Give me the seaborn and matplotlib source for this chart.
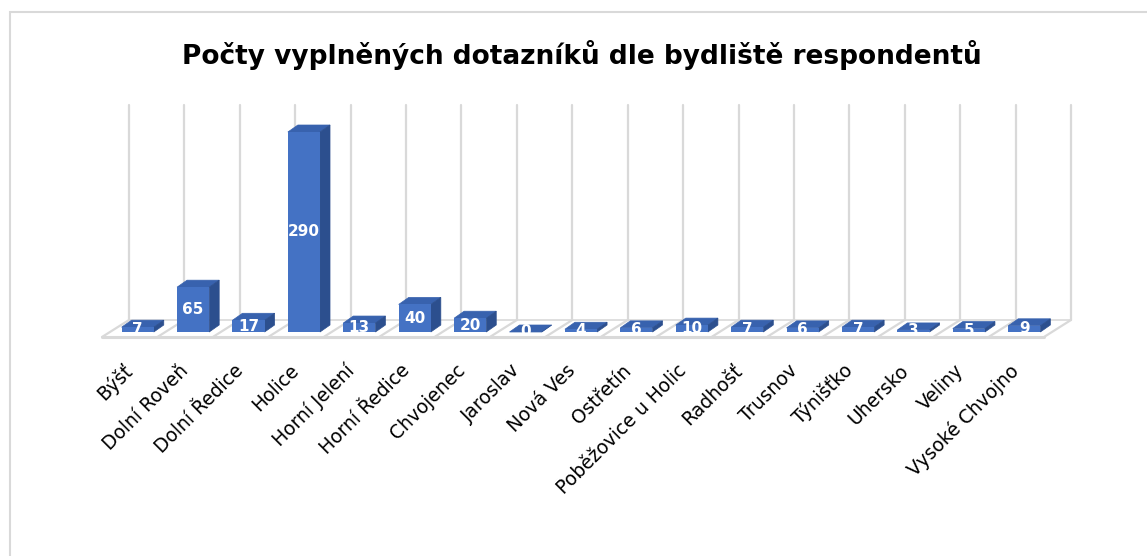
import matplotlib
matplotlib.use("Agg")
import matplotlib.pyplot as plt
from matplotlib.patches import Polygon, Rectangle
from matplotlib.transforms import ScaledTranslation
import seaborn as sns

# --- data ---
obce = ["Býšť", "Dolní Roveň", "Dolní Ředice", "Holice", "Horní Jelení",
        "Horní Ředice", "Chvojenec", "Jaroslav", "Nová Ves", "Ostřetín",
        "Poběžovice u Holic", "Radhošť", "Trusnov", "Týnišťko", "Uhersko",
        "Veliny", "Vysoké Chvojno"]
pocty = [7, 65, 17, 290, 13, 40, 20, 0, 4, 6, 10, 7, 6, 7, 3, 5, 9]
nadpis = "Počty vyplněných dotazníků dle bydliště respondentů"

FRONT = "#4472C4"
TOP = "#3862AE"
SIDE = "#2C4F8E"
GRID = "#D9D9D9"

sns.set_style("white")
plt.rcParams["font.family"] = ["DejaVu Sans"]

W, H = 1147, 556
fig = plt.figure(figsize=(W / 100, H / 100), dpi=100)
ax = fig.add_axes([102 / W, (H - 337) / H, 942 / W, 215 / H])

n = len(obce)
ymax = 311.75
sns.barplot(x=obce, y=pocty, color=FRONT, width=0.58, saturation=1,
            linewidth=0, ax=ax, zorder=3)
ax.set_xlim(-0.5, n - 0.5)
ax.set_ylim(0, ymax)

# pixel -> data conversion (fixed figure size)
ppx = ax.bbox.width / n
ppy = ax.bbox.height / ymax


def px(dx, dy):
    return dx / ppx, dy / ppy


wall_dx, wall_dy = px(27, 17)
d_dx, d_dy = px(10, 7)
bar_tr = ax.transData + ScaledTranslation(8 / 100, 5 / 100, fig.dpi_scale_trans)

# back wall gridlines + floor
for b in range(n + 1):
    x = b - 0.5
    ax.plot([x + wall_dx, x + wall_dx], [wall_dy, ymax + wall_dy], color=GRID,
            lw=1.6, zorder=0, clip_on=False)
    ax.plot([x, x + wall_dx], [0, wall_dy], color=GRID, lw=1.6,
            zorder=0.5, clip_on=False)
ax.plot([-0.5, n - 0.5], [0, 0], color=GRID, lw=2.2, zorder=0.5, clip_on=False)
ax.plot([-0.5 + wall_dx, n - 0.5 + wall_dx], [wall_dy, wall_dy], color=GRID,
        lw=1.2, zorder=0.5, clip_on=False)

# 3D-ish faces on the seaborn bars
for p, v in zip(ax.patches, pocty):
    p.set_transform(bar_tr)
    p.set_clip_on(False)
    x0, w, h = p.get_x(), p.get_width(), p.get_height()
    x1 = x0 + w
    top = Polygon([(x0, h), (x1, h), (x1 + d_dx, h + d_dy), (x0 + d_dx, h + d_dy)],
                  closed=True, facecolor=TOP, edgecolor=TOP, lw=0.5,
                  transform=bar_tr, zorder=2.5, clip_on=False)
    side = Polygon([(x1, 0), (x1 + d_dx, d_dy), (x1 + d_dx, h + d_dy), (x1, h)],
                   closed=True, facecolor=SIDE, edgecolor=SIDE, lw=0.5,
                   transform=bar_tr, zorder=2.5, clip_on=False)
    ax.add_patch(top)
    ax.add_patch(side)
    ax.text(p.get_x() + w / 2, h / 2, f"{v}", transform=bar_tr,
            ha="center", va="center", color="white", fontsize=11,
            fontweight="bold", zorder=4, clip_on=False)

ax.set_xticks(range(n))
ax.set_xticklabels(obce, rotation=45, ha="right", va="center",
                   rotation_mode="anchor", fontsize=13.5, color="black")
ax.tick_params(axis="x", length=0, pad=22)
ax.set_yticks([])
ax.set_xlabel("")
ax.set_ylabel("")
sns.despine(ax=ax, left=True, bottom=True)

fig.text(582 / W, 1 - 55 / H, nadpis, ha="center", va="center",
         fontsize=19, fontweight="bold", color="black")

# chart frame
fig.add_artist(Rectangle((10 / W, -0.1), 1.2, 1.1 - 12 / H, fill=False,
                         edgecolor=GRID, lw=1.5, transform=fig.transFigure))

fig.savefig("out.png", dpi=100)
